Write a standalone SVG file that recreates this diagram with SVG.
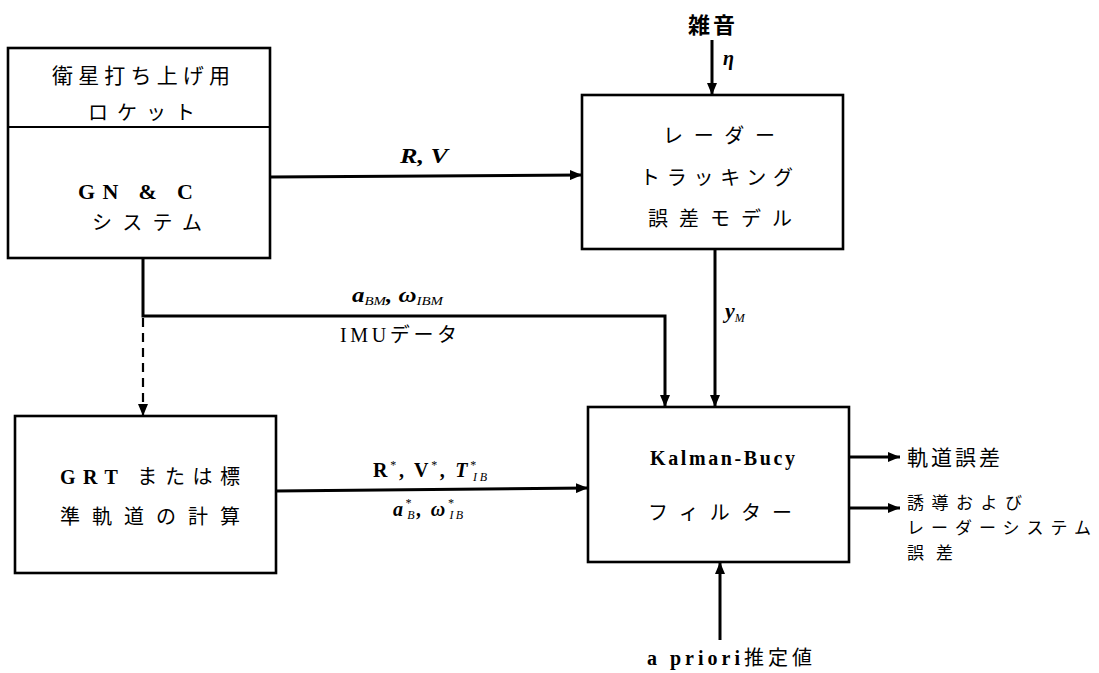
<svg xmlns="http://www.w3.org/2000/svg" width="1099" height="673" viewBox="0 0 1099 673">
<style>
.box{fill:#fff;stroke:#000;stroke-width:2.6}
.ln{fill:none;stroke:#000;stroke-width:3}
.dash{fill:none;stroke:#000;stroke-width:2.2;stroke-dasharray:9 6}
.jp{font-family:"Noto Sans CJK JP","Liberation Serif",sans-serif;font-size:20px;fill:#000}
.lat{font-family:"Liberation Serif",serif;font-weight:bold;font-size:20px;fill:#000}
.math{font-family:"Liberation Serif",serif;font-weight:bold;font-style:italic;font-size:20px;fill:#000}
.sub{font-size:12px;font-weight:normal}
</style>
<defs>
<marker id="ah" markerUnits="userSpaceOnUse" markerWidth="12" markerHeight="10" refX="12" refY="5" orient="auto">
<path d="M0,0 L12,5 L0,10 z" fill="#000"/>
</marker>
</defs>
<rect width="1099" height="673" fill="#fff"/>

<g id="connectors">
<line class="ln" x1="270" y1="177" x2="582" y2="175" marker-end="url(#ah)"/>
<line class="ln" x1="712" y1="40" x2="712" y2="95" marker-end="url(#ah)"/>
<line class="ln" x1="715" y1="249" x2="715" y2="407" marker-end="url(#ah)"/>
<path class="ln" d="M143,258 V316 H665 V407" marker-end="url(#ah)"/>
<line class="dash" x1="143" y1="318" x2="143" y2="416" marker-end="url(#ah)"/>
<line class="ln" x1="276" y1="491" x2="588" y2="488" marker-end="url(#ah)"/>
<line class="ln" x1="849" y1="457" x2="900" y2="457" marker-end="url(#ah)"/>
<line class="ln" x1="849" y1="508" x2="900" y2="508" marker-end="url(#ah)"/>
<line class="ln" x1="720" y1="640" x2="720" y2="562" marker-end="url(#ah)"/>
<text class="math" x="400" y="163" textLength="48" lengthAdjust="spacingAndGlyphs">R, V</text>
<text class="math" x="723" y="65">η</text>
<text class="math" x="725" y="318" style="font-size:22px">y<tspan class="sub" dy="4">M</tspan></text>
<text class="math" x="352" y="302" textLength="91" lengthAdjust="spacingAndGlyphs">a<tspan class="sub" dy="3">BM</tspan><tspan dy="-3">, ω</tspan><tspan class="sub" dy="3">IBM</tspan></text>
<text class="jp" x="340" y="342" textLength="117" lengthAdjust="spacing"><tspan class="lat" style="font-weight:normal">IMU</tspan>データ</text>
<text class="lat" x="373" y="477" textLength="114" lengthAdjust="spacing">R<tspan class="sub" dy="-8">*</tspan><tspan dy="8">, V</tspan><tspan class="sub" dy="-8">*</tspan><tspan dy="8">, </tspan><tspan style="font-style:italic">T</tspan><tspan class="sub" dy="-8">*</tspan><tspan class="sub" dx="-6" dy="12" style="font-style:italic">IB</tspan></text>
<text class="math" x="393" y="516" textLength="70" lengthAdjust="spacing">a<tspan class="sub" dy="-9">*</tspan><tspan class="sub" dx="-6" dy="12">B</tspan><tspan dy="-3">, ω</tspan><tspan class="sub" dy="-9">*</tspan><tspan class="sub" dx="-6" dy="12">IB</tspan></text>
<text class="jp" x="688" y="33" textLength="47" lengthAdjust="spacing" style="font-size:22px;font-weight:bold">雑音</text>
<text class="jp" x="907" y="465" textLength="93" lengthAdjust="spacing" style="font-size:21px">軌道誤差</text>
<text class="jp" x="907" y="509" textLength="115" lengthAdjust="spacing" style="font-size:17px">誘導および</text>
<text class="jp" x="907" y="534" textLength="184" lengthAdjust="spacing" style="font-size:17px">レーダーシステム</text>
<text class="jp" x="907" y="559" textLength="46" lengthAdjust="spacing" style="font-size:17px">誤差</text>
<text class="jp" x="647" y="665" textLength="165" lengthAdjust="spacing"><tspan class="lat">a priori</tspan>推定値</text>
</g>

<g id="rocket">
<rect class="box" x="8" y="48" width="262" height="210"/>
<line class="ln" x1="8" y1="127" x2="270" y2="127" style="stroke-width:2.2"/>
<text class="jp" x="52" y="83" textLength="178" lengthAdjust="spacing" style="font-size:21px">衛星打ち上げ用</text>
<text class="jp" x="88" y="120" textLength="107" lengthAdjust="spacing">ロケット</text>
<text class="lat" x="78" y="199" textLength="115" lengthAdjust="spacing" style="font-size:22px">GN &amp; C</text>
<text class="jp" x="92" y="230" textLength="110" lengthAdjust="spacing">システム</text>
</g>

<g id="radar">
<rect class="box" x="582" y="95" width="261" height="154"/>
<text class="jp" x="663" y="143" textLength="112" lengthAdjust="spacing">レーダー</text>
<text class="jp" x="640" y="185" textLength="153" lengthAdjust="spacing">トラッキング</text>
<text class="jp" x="648" y="226" textLength="144" lengthAdjust="spacing">誤差モデル</text>
</g>

<g id="grt">
<rect class="box" x="15" y="416" width="261" height="157"/>
<text class="jp" x="60" y="484" textLength="180" lengthAdjust="spacing"><tspan class="lat">GRT</tspan> または標</text>
<text class="jp" x="60" y="524" textLength="180" lengthAdjust="spacing">準軌道の計算</text>
</g>

<g id="kalman">
<rect class="box" x="588" y="407" width="261" height="155"/>
<text class="lat" x="650" y="465" textLength="145" lengthAdjust="spacing">Kalman-Bucy</text>
<text class="jp" x="648" y="520" textLength="144" lengthAdjust="spacing">フィルター</text>
</g>
</svg>
